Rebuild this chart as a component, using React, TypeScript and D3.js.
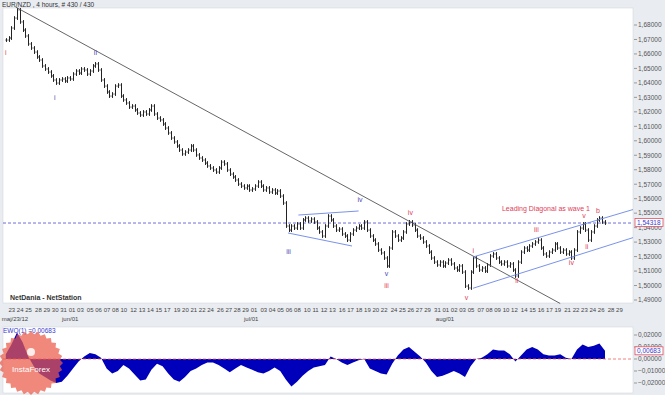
"use client";

import { useEffect, useRef } from "react";
import * as d3 from "d3";

// EUR/NZD 4h closes, one value per two bars (430 bars in total)
const closes = [
  1.6696, 1.671, 1.6779, 1.6848, 1.6904, 1.6821, 1.6765, 1.6724, 1.6669, 1.6641,
  1.6613, 1.6579, 1.6558, 1.6517, 1.6496, 1.6475, 1.6448, 1.642, 1.6399, 1.642,
  1.6427, 1.6413, 1.6434, 1.6427, 1.6461, 1.6482, 1.6468, 1.6496, 1.6489, 1.6461,
  1.6482, 1.6517, 1.6531, 1.6489, 1.642, 1.6378, 1.6337, 1.6309, 1.6323, 1.6378,
  1.6385, 1.6309, 1.6282, 1.6261, 1.6233, 1.624, 1.6213, 1.6192, 1.6178, 1.6199,
  1.6185, 1.6213, 1.624, 1.6185, 1.6157, 1.6144, 1.6116, 1.6088, 1.6054, 1.6019,
  1.5992, 1.5964, 1.5936, 1.5909, 1.5922, 1.5936, 1.5964, 1.5936, 1.5902, 1.5881,
  1.5867, 1.5846, 1.5826, 1.5812, 1.5798, 1.5784, 1.5812, 1.5853, 1.584, 1.5798,
  1.577, 1.575, 1.5729, 1.5701, 1.5687, 1.5674, 1.5687, 1.566, 1.5667, 1.5687,
  1.5715, 1.5687, 1.566, 1.5674, 1.5646, 1.566, 1.5639, 1.5653, 1.5618, 1.557,
  1.5411, 1.5383, 1.5411, 1.5397, 1.5425, 1.5397, 1.5453, 1.5466, 1.5446, 1.5459,
  1.5439, 1.5397, 1.537, 1.5342, 1.5411, 1.548, 1.5453, 1.5411, 1.5383, 1.539,
  1.5356, 1.5342, 1.5314, 1.5356, 1.5383, 1.5397, 1.5411, 1.5397, 1.5439, 1.5383,
  1.5342, 1.5314, 1.5287, 1.5245, 1.5225, 1.519, 1.5135, 1.5259, 1.537, 1.5342,
  1.5314, 1.5328, 1.537, 1.5425, 1.5439, 1.5418, 1.5383, 1.5342, 1.5328, 1.5301,
  1.5273, 1.5231, 1.519, 1.5162, 1.5142, 1.5162, 1.5135, 1.5155, 1.5176, 1.5149,
  1.5121, 1.5107, 1.5135, 1.5093, 1.4996, 1.4983, 1.5093, 1.519, 1.5135, 1.5107,
  1.5121, 1.51, 1.5142, 1.5204, 1.5218, 1.519, 1.5162, 1.5149, 1.5162, 1.5135,
  1.5149, 1.5107, 1.5066, 1.5162, 1.5231, 1.5259, 1.5245, 1.5273, 1.5287, 1.5301,
  1.5314, 1.5259, 1.5218, 1.5204, 1.5231, 1.5245, 1.5287, 1.5259, 1.5231, 1.5245,
  1.5218, 1.5231, 1.519, 1.5245, 1.537, 1.5397, 1.5425, 1.5383, 1.5314, 1.537,
  1.5411, 1.5453, 1.5466, 1.5439, 1.54318,
];

// EWO histogram, one value every four bars
const ewoValues = [
  0.004, 0.012, 0.022, 0.014, 0.002, -0.006, -0.012, -0.015, -0.018, -0.02,
  -0.019, -0.014, -0.008, -0.002, 0.002, 0.005, 0.004, 0.001, -0.008, -0.012,
  -0.01, -0.005, -0.008, -0.013, -0.018, -0.017, -0.009, -0.004, -0.006, -0.012,
  -0.017, -0.019, -0.015, -0.01, -0.008, -0.005, -0.003, -0.003, -0.005, -0.008,
  -0.011, -0.008, -0.005, -0.007, -0.009, -0.011, -0.012, -0.01, -0.007, -0.01,
  -0.017, -0.023, -0.019, -0.014, -0.01, -0.007, -0.006, -0.005, 0.002, 0.0,
  -0.003, -0.005, -0.003, -0.001, 0.0, -0.008, -0.01, -0.012, -0.013, -0.004,
  0.003, 0.008, 0.01, 0.006, 0.002, -0.003, -0.01, -0.015, -0.014, -0.012,
  -0.01, -0.012, -0.015, -0.006, 0.0, 0.001, 0.004, 0.008, 0.007, 0.007,
  0.004, -0.002, 0.003, 0.008, 0.01, 0.008, 0.004, 0.003, 0.003, 0.004,
  0.001, 0.0, 0.008, 0.012, 0.01, 0.011, 0.013, 0.00683,
];

const dayLabels = [
  "23", "24", "25", "28", "29", "30", "31", "01", "03", "05", "06", "07", "08", "10", "12",
  "13", "14", "15", "17", "19", "20", "21", "22", "24", "26", "27", "28", "29", "01", "03",
  "04", "05", "06", "08", "10", "11", "12", "13", "16", "17", "18", "19", "20", "22", "24",
  "25", "26", "27", "29", "31", "01", "02", "03", "05", "07", "08", "09", "10", "12", "14",
  "15", "16", "17", "19", "21", "22", "23", "24", "26", "28", "29",
];
const dayBars = [
  0, 6, 12, 19, 25, 31, 37, 43, 49, 56, 62, 68, 74, 80, 87,
  93, 99, 105, 111, 118, 124, 130, 136, 142, 149, 155, 161, 167, 173, 180,
  186, 192, 198, 204, 211, 217, 223, 229, 236, 242, 248, 254, 260, 266, 273,
  279, 285, 291, 297, 304, 310, 316, 322, 328, 335, 341, 347, 353, 359, 366,
  372, 378, 384, 390, 397, 403, 409, 415, 421, 428, 434,
];
const monthLabels = ["maj/23/12", "jun/01", "jul/01", "aug/01"];
const monthBars = [0, 43, 173, 310];

const priceTicks = [
  1.68, 1.67, 1.66, 1.65, 1.64, 1.63, 1.62, 1.61, 1.6, 1.59,
  1.58, 1.57, 1.56, 1.55, 1.54, 1.53, 1.52, 1.51, 1.5, 1.49,
];
const ewoTicks = [0.02, 0.01, 0, -0.01, -0.02];
const lastPrice = 1.54318;
const lastEwo = 0.00683;

// wave counts
const blueWaveText = ["i", "ii", "iii", "iv", "v"];
const blueWaveBars = [35, 64, 202, 253, 272];
const blueWavePrices = [1.6302, 1.6607, 1.5238, 1.5591, 1.5086];
const redWaveText = ["i", "iii", "iv", "v", "i", "ii", "iii", "iv", "v", "ii", "b"];
const redWaveBars = [0, 272, 289, 329, 334, 365, 379, 404, 413, 415, 423];
const redWavePrices = [1.6613, 1.5003, 1.5508, 1.4914, 1.5245, 1.5038, 1.539, 1.5162, 1.5487, 1.5273, 1.5515];

// trend lines: [bar, price] pairs
const trendLine = [[7, 1.6924], [396, 1.4876]];
const triangleUpper = [[209, 1.5487], [252, 1.5515]];
const triangleLower = [[201.6, 1.5363], [247.3, 1.5273]];
const channelUpper = [[333.7, 1.5197], [448, 1.5525]];
const channelLower = [[333.7, 1.4981], [448, 1.5331]];

const FONT = "'Liberation Sans', Arial, sans-serif";
const comma = (v: number) => d3.format(".5f")(v).replace(".", ",");

export default function App() {
  const ref = useRef<SVGSVGElement | null>(null);

  useEffect(() => {
    if (!ref.current) return;
    const W = 665, H = 395;
    const main = { left: 3, right: 633, top: 8, bottom: 303 };
    const osc = { top: 327, bottom: 393 };

    const svg = d3.select(ref.current).html("").attr("width", W).attr("height", H);

    svg.append("rect").attr("width", W).attr("height", H).attr("fill", "#e9ecf1");

    const x = d3.scaleLinear().domain([0, 430]).range([5.8, 607.8]);
    const y = d3.scaleLinear().domain([1.49, 1.68]).range([300, 25]);
    const yE = d3.scaleLinear().domain([-0.02, 0.02]).range([383, 335]);

    // panels
    svg.append("rect")
      .attr("x", main.left).attr("y", main.top)
      .attr("width", main.right - main.left).attr("height", main.bottom - main.top)
      .attr("fill", "#fff").attr("stroke", "#cfd3da").attr("stroke-width", 0.5);
    svg.append("rect")
      .attr("x", main.left).attr("y", osc.top)
      .attr("width", main.right - main.left).attr("height", osc.bottom - osc.top)
      .attr("fill", "#fff").attr("stroke", "#cfd3da").attr("stroke-width", 0.5);

    // title
    svg.append("text").attr("x", 2).attr("y", 6.5)
      .attr("font-family", FONT).attr("font-size", 6.5).attr("fill", "#333")
      .text("EUR/NZD , 4 hours, # 430 / 430");

    const g = svg.append("g");

    // dashed last-price line
    g.append("line")
      .attr("x1", main.left).attr("x2", main.right)
      .attr("y1", y(lastPrice)).attr("y2", y(lastPrice))
      .attr("stroke", "#4a4ad0").attr("stroke-width", 0.8).attr("stroke-dasharray", "3,2");

    // OHLC bars
    const wick = 0.0013;
    closes.forEach((c, j) => {
      const o = j === 0 ? c : closes[j - 1];
      const hi = Math.max(o, c) + wick;
      const lo = Math.min(o, c) - wick;
      const cx = Math.round(x(2 * j)) + 0.5;
      g.append("line").attr("x1", cx).attr("x2", cx).attr("y1", y(hi)).attr("y2", y(lo))
        .attr("stroke", "#222").attr("stroke-width", 1);
      g.append("line").attr("x1", cx - 1.2).attr("x2", cx).attr("y1", y(o)).attr("y2", y(o))
        .attr("stroke", "#333").attr("stroke-width", 0.8);
      g.append("line").attr("x1", cx).attr("x2", cx + 1.2).attr("y1", y(c)).attr("y2", y(c))
        .attr("stroke", "#333").attr("stroke-width", 0.8);
    });

    const seg = (pts: number[][], color: string, w: number) =>
      g.append("line")
        .attr("x1", x(pts[0][0])).attr("y1", y(pts[0][1]))
        .attr("x2", x(pts[1][0])).attr("y2", y(pts[1][1]))
        .attr("stroke", color).attr("stroke-width", w);

    seg(trendLine, "#555", 0.9);
    seg(triangleUpper, "#6a86e6", 0.9);
    seg(triangleLower, "#6a86e6", 0.9);
    seg(channelUpper, "#6a86e6", 0.9);
    seg(channelLower, "#6a86e6", 0.9);

    // wave labels
    blueWaveText.forEach((t, i) => {
      g.append("text").attr("x", x(blueWaveBars[i])).attr("y", y(blueWavePrices[i]) + 2.5)
        .attr("text-anchor", "middle").attr("font-family", FONT).attr("font-size", 7)
        .attr("fill", "#4848b8").text(t);
    });
    redWaveText.forEach((t, i) => {
      g.append("text").attr("x", x(redWaveBars[i])).attr("y", y(redWavePrices[i]) + 2.5)
        .attr("text-anchor", "middle").attr("font-family", FONT).attr("font-size", 7)
        .attr("fill", "#e0405a").text(t);
    });
    g.append("text").attr("x", x(354.4)).attr("y", y(1.5535) + 2.5)
      .attr("font-family", FONT).attr("font-size", 7).attr("fill", "#e0405a")
      .text("Leading Diagonal as wave 1");

    g.append("text").attr("x", 10).attr("y", 299.5)
      .attr("font-family", FONT).attr("font-size", 7).attr("font-weight", "bold").attr("fill", "#333")
      .text("NetDania - NetStation");

    // right price axis
    const axis = svg.append("g").attr("font-family", FONT).attr("font-size", 6.5).attr("fill", "#555");
    priceTicks.forEach((p) => {
      axis.append("line").attr("x1", main.right + 1).attr("x2", main.right + 4)
        .attr("y1", y(p)).attr("y2", y(p)).attr("stroke", "#777").attr("stroke-width", 0.7);
      axis.append("text").attr("x", main.right + 5).attr("y", y(p) + 2.3).text(comma(p));
    });
    axis.append("rect").attr("x", main.right + 2).attr("y", y(lastPrice) - 4.5)
      .attr("width", 28).attr("height", 8).attr("fill", "#fff")
      .attr("stroke", "#e05060").attr("stroke-width", 0.8);
    axis.append("text").attr("x", main.right + 4).attr("y", y(lastPrice) + 1.8)
      .attr("fill", "#3a3ad0").text(comma(lastPrice));

    // date axis
    const dates = svg.append("g").attr("font-family", FONT).attr("font-size", 6).attr("fill", "#444");
    dayLabels.forEach((d, i) => {
      dates.append("text").attr("x", x(dayBars[i]) + 6).attr("y", 312)
        .attr("text-anchor", "middle").text(d);
    });
    monthLabels.forEach((m, i) => {
      dates.append("text").attr("x", x(monthBars[i]) - 4).attr("y", 320.5).text(m);
    });

    // EWO panel
    const area = d3.area<number>()
      .x((_, k) => x(4 * k))
      .y0(yE(0))
      .y1((v) => yE(v));
    svg.append("path").datum(ewoValues).attr("d", area as any).attr("fill", "#0000bb");
    svg.append("line").attr("x1", main.left).attr("x2", main.right)
      .attr("y1", yE(0)).attr("y2", yE(0))
      .attr("stroke", "#f06060").attr("stroke-width", 0.8).attr("stroke-dasharray", "3,2");

    ewoTicks.forEach((v) => {
      axis.append("line").attr("x1", main.right + 1).attr("x2", main.right + 4)
        .attr("y1", yE(v)).attr("y2", yE(v)).attr("stroke", "#777").attr("stroke-width", 0.7);
      axis.append("text").attr("x", main.right + 5).attr("y", yE(v) + 2.3).text(comma(v));
    });
    axis.append("rect").attr("x", main.right + 2).attr("y", yE(lastEwo) - 4)
      .attr("width", 28).attr("height", 8).attr("fill", "#fff")
      .attr("stroke", "#e05060").attr("stroke-width", 0.8);
    axis.append("text").attr("x", main.right + 4).attr("y", yE(lastEwo) + 2.3)
      .attr("fill", "#3a3ad0").text(comma(lastEwo));

    svg.append("text").attr("x", 3).attr("y", 333)
      .attr("font-family", FONT).attr("font-size", 6.5).attr("fill", "#3a3ad0")
      .text(`EWO(1) =${comma(lastEwo)}`);

    // watermark
    const logo = svg.append("g").attr("transform", "translate(31,363)");
    const spikes = 28;
    const star = d3.range(spikes * 2).map((k) => {
      const r = k % 2 === 0 ? 32 : 29;
      const a = (k / (spikes * 2)) * Math.PI * 2;
      return [Math.cos(a) * r, Math.sin(a) * r] as [number, number];
    });
    logo.append("path").attr("d", d3.line()(star) + "Z")
      .attr("fill", "#ea5a48").attr("fill-opacity", 0.72);
    logo.append("circle").attr("cx", 0).attr("cy", -11).attr("r", 4).attr("fill", "#fff").attr("fill-opacity", 0.85);
    logo.append("text").attr("x", 0).attr("y", 9).attr("text-anchor", "middle")
      .attr("font-family", FONT).attr("font-size", 8).attr("fill", "#fff").text("InstaForex");
  }, []);

  return (
    <svg ref={ref} style={{ position: "absolute", left: 0, top: 0, display: "block" }}></svg>
  );
}
